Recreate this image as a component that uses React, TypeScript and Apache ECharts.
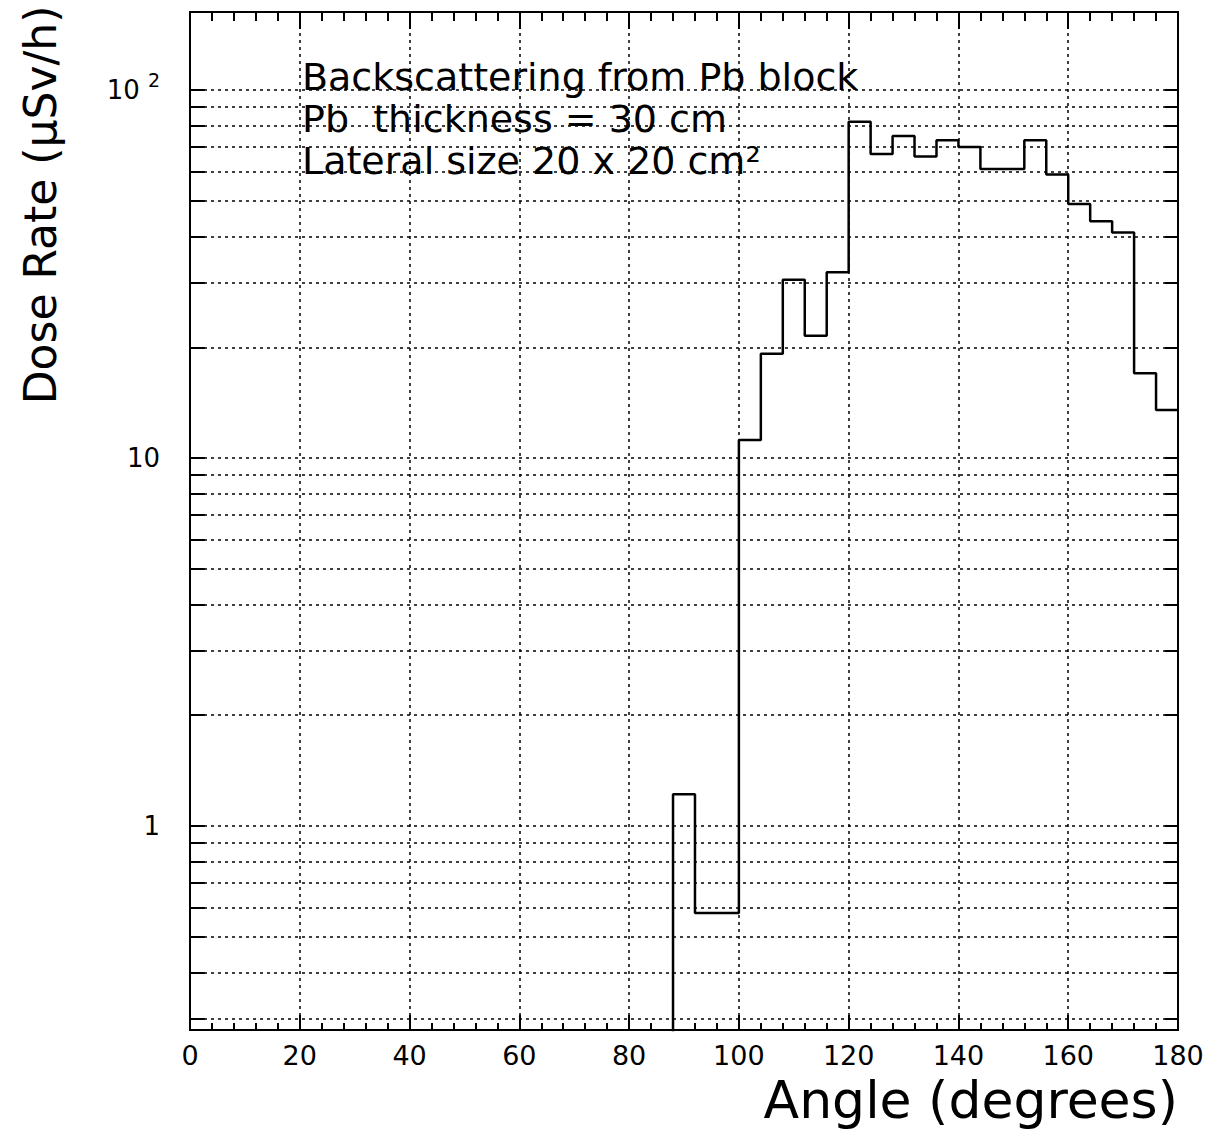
import React, { useEffect, useRef } from "react";
import * as echarts from "echarts";

// Histogram bin edges (degrees) and dose rate per bin (µSv/h)
const binEdges = [
  0, 4, 8, 12, 16, 20, 24, 28, 32, 36, 40, 44, 48, 52, 56, 60, 64, 68, 72, 76, 80, 84,
  88, 92, 96, 100, 104, 108, 112, 116, 120, 124, 128, 132, 136, 140, 144, 148, 152, 156,
  160, 164, 168, 172, 176, 180,
];
// bins below 88 deg are below the axis range (empty)
const doseRate = [
  0.1, 0.1, 0.1, 0.1, 0.1, 0.1, 0.1, 0.1, 0.1, 0.1, 0.1, 0.1, 0.1, 0.1, 0.1, 0.1, 0.1, 0.1,
  0.1, 0.1, 0.1, 0.1,
  1.22, 0.58, 0.58, 11.2, 19.2, 30.5, 21.5, 32, 82, 67, 75, 66, 73, 70, 61, 61, 73, 59, 49,
  44, 41, 17, 13.5,
];

const xMin = 0;
const xMax = 180;
const xInterval = 20;
const yMin = 0.279;
const yMax = 163;
const gridValues = [
  0.3, 0.4, 0.5, 0.6, 0.7, 0.8, 0.9, 1, 2, 3, 4, 5, 6, 7, 8, 9, 10, 20, 30, 40, 50, 60, 70,
  80, 90, 100,
];
const yTickLabels: Record<number, string> = { 0: "1", 1: "10", 2: "{b|10}{s|2}" };
const annotationLines = [
  "Backscattering from Pb block",
  "Pb  thickness = 30 cm",
  "Lateral size 20 x 20 cm\u00b2",
];
const xTitle = "Angle (degrees)";
const yTitle = "Dose Rate (\u03bcSv/h)";

const FONT = "DejaVu Sans";
const TICK_LEFT = 2.7; // tick length in axis units
const TICK_RIGHT = 2.4;

export default function App() {
  const ref = useRef<HTMLDivElement>(null);

  useEffect(() => {
    if (!ref.current) return;
    const chart = echarts.init(ref.current, null, { renderer: "svg" });

    const seriesData = binEdges.map((x, i) => [
      x,
      i < doseRate.length ? doseRate[i] : doseRate[doseRate.length - 1],
    ]);

    const dotted = { type: [3, 4] as number[], width: 1.5, color: "#000" };
    const solid = { type: "solid", width: 2, color: "#000" };

    const markData: any[] = [];
    gridValues.forEach((v) => {
      markData.push({ yAxis: v, lineStyle: dotted });
    });
    gridValues.forEach((v) => {
      markData.push([{ coord: [xMin, v], lineStyle: solid }, { coord: [xMin + TICK_LEFT, v] }]);
      markData.push([{ coord: [xMax - TICK_RIGHT, v], lineStyle: solid }, { coord: [xMax, v] }]);
    });

    const labelStyle = { fontFamily: FONT, fontSize: 27, color: "#000" };

    chart.setOption({
      animation: false,
      backgroundColor: "#fff",
      grid: {
        left: 190,
        top: 12,
        width: 988,
        height: 1018,
        show: true,
        borderColor: "#000",
        borderWidth: 2,
        backgroundColor: "transparent",
      },
      xAxis: [
        {
          type: "value",
          position: "bottom",
          min: xMin,
          max: xMax,
          interval: xInterval,
          axisLine: { show: false },
          axisTick: { show: true, inside: true, length: 15, lineStyle: { color: "#000", width: 2 } },
          minorTick: { show: true, splitNumber: 5, length: 7, lineStyle: { color: "#000", width: 2 } },
          axisLabel: { ...labelStyle, margin: 12 },
          splitLine: { show: true, lineStyle: dotted },
        },
        {
          type: "value",
          position: "top",
          min: xMin,
          max: xMax,
          interval: xInterval,
          axisLine: { show: false },
          axisTick: { show: true, inside: true, length: 17, lineStyle: { color: "#000", width: 2 } },
          minorTick: { show: true, splitNumber: 5, length: 9, lineStyle: { color: "#000", width: 2 } },
          axisLabel: { show: false },
          splitLine: { show: false },
        },
      ],
      yAxis: {
        type: "log",
        logBase: 10,
        min: yMin,
        max: yMax,
        axisLine: { show: false },
        axisTick: { show: false },
        splitLine: { show: false },
        axisLabel: {
          fontFamily: FONT,
          fontSize: 26,
          color: "#000",
          margin: 30,
          showMinLabel: false,
          showMaxLabel: false,
          formatter: (v: number) => {
            const e = Math.log10(v);
            const r = Math.round(e);
            if (Math.abs(e - r) > 1e-6) return "";
            return yTickLabels[r] ?? "";
          },
          rich: {
            b: { fontFamily: FONT, fontSize: 26, color: "#000" },
            s: { fontFamily: FONT, fontSize: 19, color: "#000", padding: [0, 0, 20, 8] },
          },
        },
      },
      series: [
        {
          type: "line",
          step: "end",
          data: seriesData,
          symbol: "none",
          clip: true,
          z: 5,
          lineStyle: { color: "#000", width: 2.5 },
          silent: true,
          markLine: {
            silent: true,
            symbol: ["none", "none"],
            label: { show: false },
            emphasis: { disabled: true },
            data: markData,
          },
        },
      ],
      graphic: [
        ...annotationLines.map((t, i) => ({
          type: "text",
          x: 302,
          y: 77 + i * 42,
          z: 10,
          style: {
            text: t,
            font: `38px "${FONT}"`,
            fill: "#000",
            align: "left",
            verticalAlign: "middle",
            textAlign: "left",
            textVerticalAlign: "middle",
          },
        })),
        {
          type: "text",
          x: 1178,
          y: 1100,
          style: {
            text: xTitle,
            font: `52px "${FONT}"`,
            fill: "#000",
            align: "right",
            verticalAlign: "middle",
            textAlign: "right",
            textVerticalAlign: "middle",
          },
        },
        {
          type: "text",
          x: 40,
          y: 205,
          rotation: Math.PI / 2,
          style: {
            text: yTitle,
            font: `44px "${FONT}"`,
            fill: "#000",
            align: "center",
            verticalAlign: "middle",
            textAlign: "center",
            textVerticalAlign: "middle",
          },
        },
      ],
    });

    return () => {
      chart.dispose();
    };
  }, []);

  return (
    <div
      ref={ref}
      style={{ position: "absolute", left: 0, top: 0, width: 1225, height: 1135, background: "#fff" }}
    />
  );
}
